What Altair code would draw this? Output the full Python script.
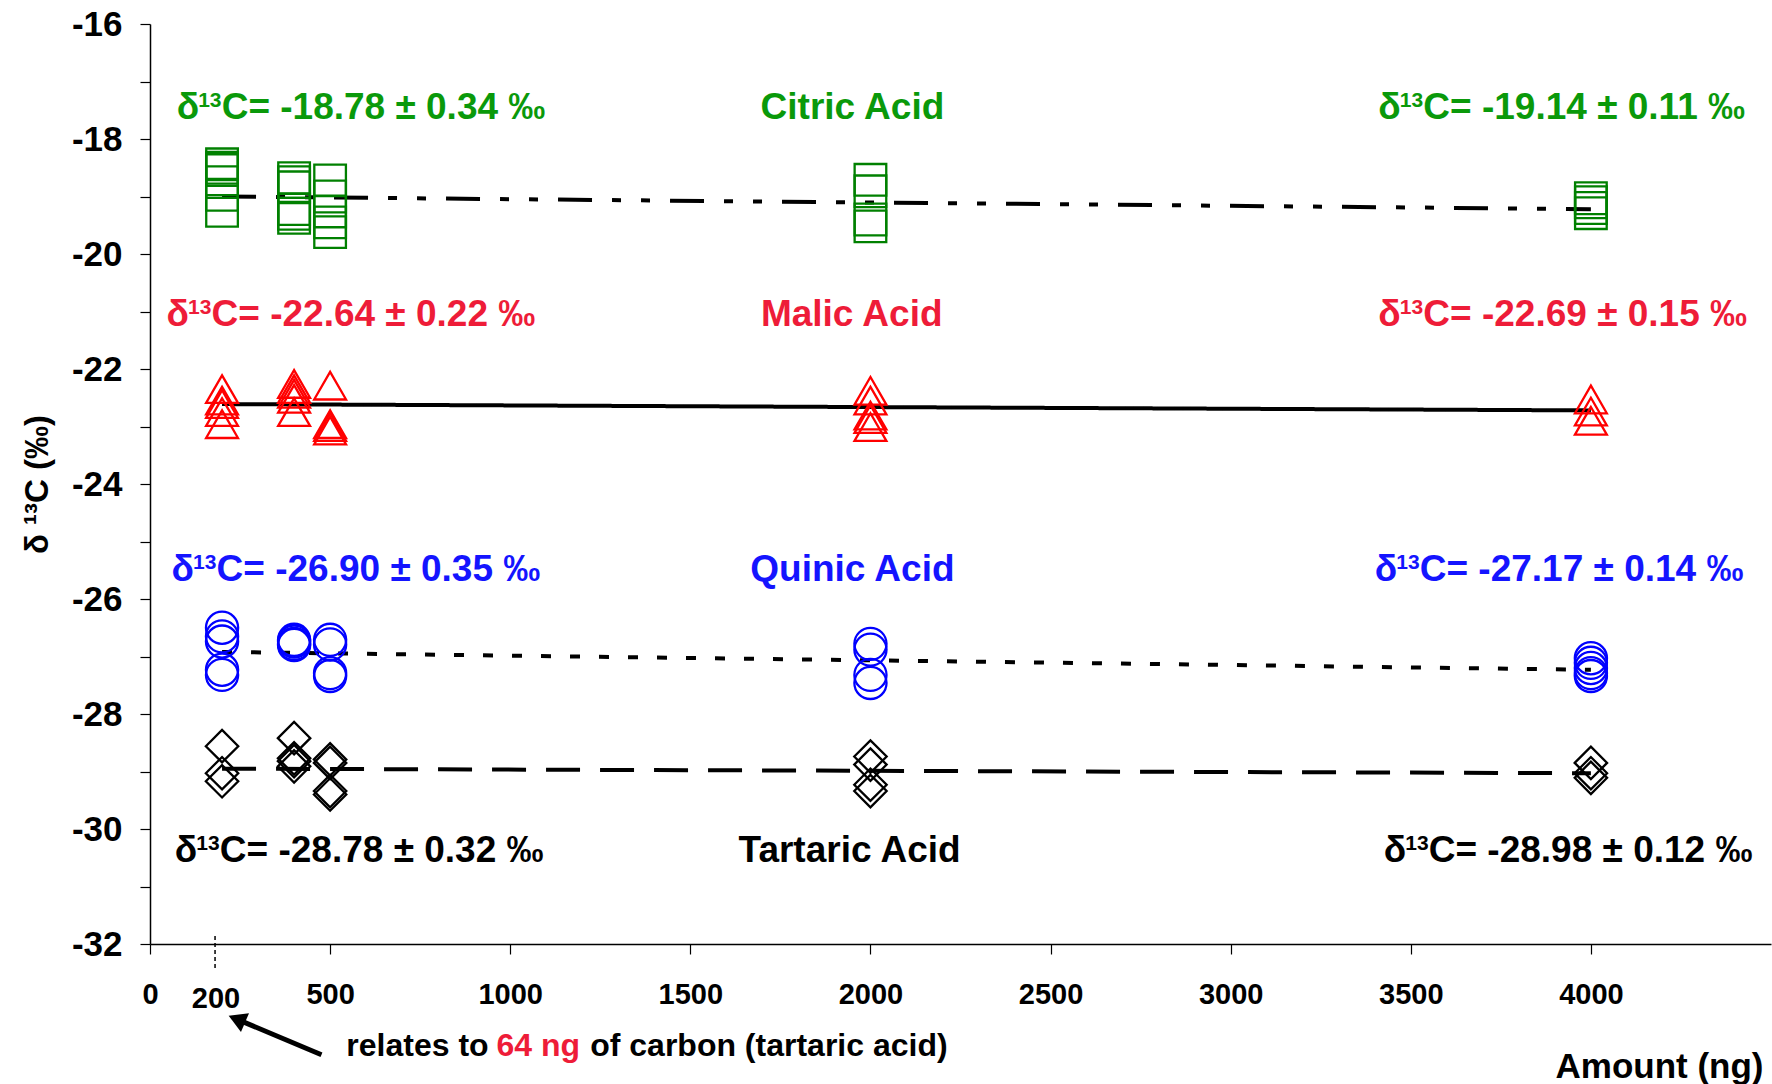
import altair as alt
import pandas as pd

FONT = "Liberation Sans"

# Sample amounts (ng) injected
amounts = [200, 400, 500, 2000, 4000]
acids = ["Citric Acid", "Malic Acid", "Quinic Acid", "Tartaric Acid"]

# Replicate δ13C measurements (‰) per amount
citric = [
    [-18.44, -18.50, -18.54, -18.75, -18.97, -19.25],
    [-18.68, -18.75, -18.84, -19.22, -19.30, -19.37],
    [-18.72, -19.00, -19.26, -19.45, -19.62],
    [-18.71, -18.91, -19.40, -19.52],
    [-19.03, -19.10, -19.20, -19.29],
]
malic = [
    [-22.35, -22.55, -22.61, -22.75, -22.96],
    [-22.26, -22.35, -22.43, -22.52, -22.75],
    [-22.29, -22.96, -23.01, -23.07],
    [-22.38, -22.55, -22.81, -22.87, -23.01],
    [-22.53, -22.74, -22.90],
]
quinic = [
    [-26.50, -26.65, -26.74, -27.23, -27.32],
    [-26.71, -26.74, -26.78, -26.80],
    [-26.71, -26.79, -27.29, -27.34],
    [-26.78, -26.88, -27.32, -27.46],
    [-27.03, -27.11, -27.20, -27.29, -27.34],
]
tartaric = [
    [-28.56, -29.03, -29.17],
    [-28.42, -28.77, -28.82, -28.91],
    [-28.79, -28.85, -29.34, -29.40],
    [-28.74, -28.88, -29.23, -29.34],
    [-28.85, -29.03, -29.11],
]

# Linear trend lines from 200 ng to 4000 ng
trend_amounts = [200, 4000]
trend_start = [-19.00, -22.61, -26.92, -28.95]
trend_end = [-19.22, -22.72, -27.23, -29.03]

# Mean ± SD, low-amount series (left) and 4000 ng series (right)
mean_low = [-18.78, -22.64, -26.90, -28.78]
sd_low = [0.34, 0.22, 0.35, 0.32]
mean_high = [-19.14, -22.69, -27.17, -28.98]
sd_high = [0.11, 0.15, 0.14, 0.12]

# Styling per acid
marker_shapes = ["square", "triangle-up", "circle", "diamond"]
marker_sizes = [1000, 1050, 900, 1160]
marker_colors = ["#008000", "#ff0000", "#0000ff", "#000000"]
text_colors = ["#0a990a", "#ee1c38", "#1414ff", "#000000"]
trend_dashes = [[34, 20, 9, 20, 9, 20], [1, 0], [10, 19], [34, 20]]

# Annotation placement in data units
label_y = [-17.65, -21.26, -25.68, -30.58]
left_start = [74, 46, 60, 69]
right_start = [3410, 3410, 3400, 3425]
name_x = [1950, 1948, 1950, 1942]

rows = []
for acid, series in zip(acids, [citric, malic, quinic, tartaric]):
    for amt, vals in zip(amounts, series):
        for v in vals:
            rows.append({"amount": amt, "value": v, "acid": acid})
points_df = pd.DataFrame(rows)

trend_rows = []
for acid, a, b in zip(acids, trend_start, trend_end):
    trend_rows.append({"amount": trend_amounts[0], "value": a, "acid": acid})
    trend_rows.append({"amount": trend_amounts[1], "value": b, "acid": acid})
trend_df = pd.DataFrame(trend_rows)

# "δ¹³C= mean ± sd ‰" split into delta, superscript and remainder
stat_rows = []
for i in range(len(acids)):
    for x0, m, s in [(left_start[i], mean_low[i], sd_low[i]),
                     (right_start[i], mean_high[i], sd_high[i])]:
        stat_rows.append({"amount": x0, "value": label_y[i], "color": text_colors[i],
                          "d": "δ", "sup": "13", "rest": f"C= {m:.2f} ± {s:.2f} ‰"})
stats_df = pd.DataFrame(stat_rows)

names_df = pd.DataFrame({"amount": name_x, "value": label_y, "color": text_colors,
                         "text": acids})

note_df = pd.DataFrame([
    {"amount": 545, "value": -33.955, "text": "relates to", "color": "#000000"},
    {"amount": 962, "value": -33.955, "text": "64 ng", "color": "#ee1c38"},
    {"amount": 1222, "value": -33.955, "text": "of carbon (tartaric acid)", "color": "#000000"},
])

arrow_df = pd.DataFrame([
    {"amount": 476, "value": -33.925, "order": 0},
    {"amount": 241, "value": -33.307, "order": 1},
])
head_df = arrow_df.iloc[[1]]

marker_df = pd.DataFrame([{"amount": 200, "value": -31.86, "value2": -32.46, "text": "200",
                           "ty": -33.108}])

x_scale = alt.Scale(domain=[0, 4500], nice=False, zero=False)
y_scale = alt.Scale(domain=[-32, -16], nice=False, zero=False)

x_axis = alt.Axis(
    values=[0, 500, 1000, 1500, 2000, 2500, 3000, 3500, 4000],
    labelExpr="toString(datum.value)",
    title="Amount (ng)", titleFont=FONT, titleFontSize=35, titleFontWeight="bold",
    titleColor="black", titleAlign="right", titleBaseline="alphabetic",
    titleX=1613, titleY=133, titleAnchor="end",
    labelFont=FONT, labelFontSize=29, labelFontWeight="bold", labelColor="black",
    labelBaseline="alphabetic", labelPadding=49, labelFlush=False, labelOverlap=False,
    tickSize=10, tickColor="black", tickWidth=1.2,
    domainColor="black", domainWidth=1.5, grid=False,
)
y_axis = alt.Axis(
    values=list(range(-32, -15)),
    labelExpr="datum.value % 2 == 0 ? toString(datum.value) : ''",
    title="δ ¹³C (‰)", titleFont=FONT, titleFontSize=33, titleFontWeight="bold",
    titleColor="black", titleAngle=270, titleBaseline="middle",
    titleX=-113, titleY=460,
    labelFont=FONT, labelFontSize=35, labelFontWeight="bold", labelColor="black",
    labelPadding=18, labelFlush=False, labelOverlap=False,
    tickSize=10, tickColor="black", tickWidth=1.2,
    domainColor="black", domainWidth=1.5, grid=False,
)


def X():
    return alt.X("amount:Q", scale=x_scale, axis=x_axis)


def Y():
    return alt.Y("value:Q", scale=y_scale, axis=y_axis)


points = alt.Chart(points_df).mark_point(filled=False, strokeWidth=2.3, opacity=1).encode(
    x=X(), y=Y(),
    shape=alt.Shape("acid:N", scale=alt.Scale(domain=acids, range=marker_shapes), legend=None),
    color=alt.Color("acid:N", scale=alt.Scale(domain=acids, range=marker_colors), legend=None),
    size=alt.Size("acid:N", scale=alt.Scale(domain=acids, range=marker_sizes), legend=None),
)

trends = alt.Chart(trend_df).mark_line(color="black", strokeWidth=4, strokeCap="butt").encode(
    x=X(), y=Y(),
    detail="acid:N",
    strokeDash=alt.StrokeDash("acid:N", scale=alt.Scale(domain=acids, range=trend_dashes),
                              legend=None),
)

stat_base = alt.Chart(stats_df).encode(
    x=X(), y=Y(), color=alt.Color("color:N", scale=None)
)
stat_delta = stat_base.mark_text(
    font=FONT, fontSize=37, fontWeight="bold", align="left", baseline="alphabetic"
).encode(text="d:N")
stat_sup = stat_base.mark_text(
    font=FONT, fontSize=21, fontWeight="bold", align="left", baseline="alphabetic",
    dx=21.5, dy=-12
).encode(text="sup:N")
stat_rest = stat_base.mark_text(
    font=FONT, fontSize=37, fontWeight="bold", align="left", baseline="alphabetic", dx=45
).encode(text="rest:N")

names = alt.Chart(names_df).mark_text(
    font=FONT, fontSize=37, fontWeight="bold", align="center", baseline="alphabetic"
).encode(x=X(), y=Y(), text="text:N", color=alt.Color("color:N", scale=None))

note = alt.Chart(note_df).mark_text(
    font=FONT, fontSize=32, fontWeight="bold", align="left", baseline="alphabetic"
).encode(x=X(), y=Y(), text="text:N", color=alt.Color("color:N", scale=None))

arrow_line = alt.Chart(arrow_df).mark_line(color="black", strokeWidth=5, strokeCap="butt").encode(
    x=X(), y=Y(), order="order:Q"
)
arrow_head = alt.Chart(head_df).mark_point(
    shape="triangle-up", filled=True, color="black", size=420, angle=293, opacity=1
).encode(x=X(), y=Y())

marker_rule = alt.Chart(marker_df).mark_rule(
    color="black", strokeWidth=1.5, strokeDash=[4, 3], xOffset=-7
).encode(x=X(), y=Y(), y2="value2:Q")

marker_text = alt.Chart(marker_df).mark_text(
    font=FONT, fontSize=29, fontWeight="bold", align="center", baseline="alphabetic", dx=-6
).encode(x=X(), y=alt.Y("ty:Q", scale=y_scale, axis=y_axis), text="text:N")

chart = alt.layer(
    trends, points, stat_delta, stat_sup, stat_rest, names, note,
    arrow_line, arrow_head, marker_rule, marker_text
).properties(
    width=1621, height=920,
    padding={"left": 150, "top": 24, "right": 1, "bottom": 140},
    autosize=alt.AutoSizeParams(type="none"),
    background="white",
).configure_view(stroke=None)

chart.save("out.html", embed_options={"renderer": "svg", "actions": False})
